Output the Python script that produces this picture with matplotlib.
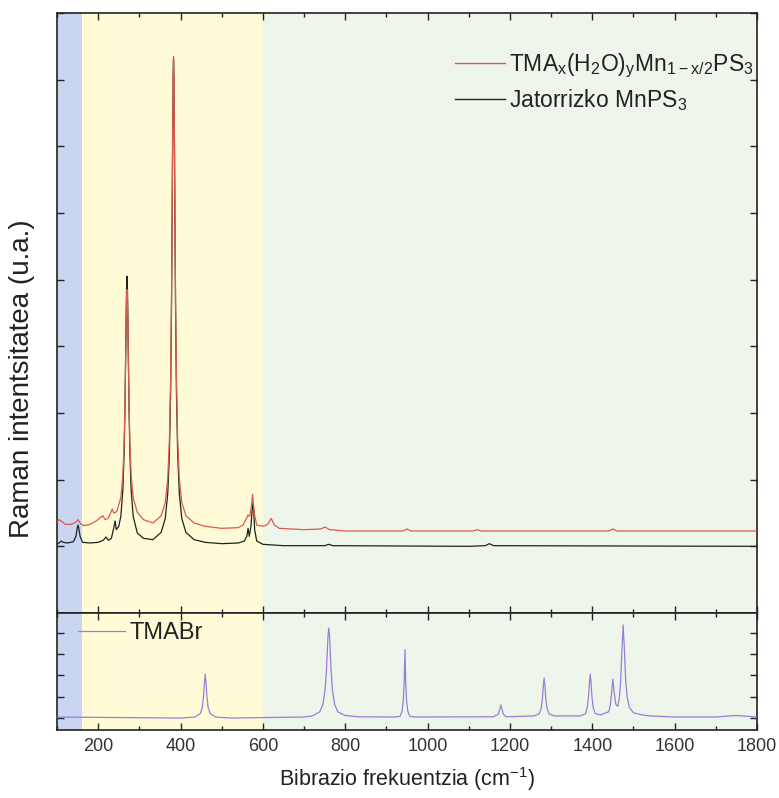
import matplotlib
matplotlib.use("Agg")
import matplotlib.pyplot as plt
from matplotlib.ticker import MultipleLocator, NullFormatter

plt.rcParams['font.family'] = ['Liberation Sans', 'DejaVu Sans']
plt.rcParams['mathtext.default'] = 'regular'

# ---- data: (wavenumber cm-1, intensity a.u.) ----
black_pts = [(100, 1.03), (105, 1.05), (110, 1.08), (115, 1.06), (125, 1.05), (140, 1.07), (146, 1.15),
             (149, 1.27), (151, 1.32), (153, 1.27), (156, 1.15), (162, 1.06), (180, 1.05), (200, 1.06),
             (212, 1.09), (219, 1.14), (225, 1.09), (232, 1.12), (238, 1.28), (241, 1.38), (244, 1.25),
             (250, 1.3), (255, 1.45), (260, 1.85), (263, 2.4), (265, 3.05), (267, 3.99), (268, 4.5),
             (269, 4.9), (270, 5.05), (271, 4.9), (272, 4.5), (273, 3.99), (275, 3.05), (277, 2.4),
             (280, 1.85), (285, 1.45), (295, 1.2), (310, 1.12), (333, 1.1), (353, 1.21), (363, 1.42),
             (369, 1.8), (373, 2.39), (376, 3.35), (378, 4.52), (379, 5.32), (380, 6.26), (381, 7.22),
             (382, 8.0), (383, 8.3), (384, 8.0), (385, 7.22), (386, 6.26), (387, 5.32), (388, 4.52),
             (390, 3.35), (393, 2.39), (397, 1.8), (403, 1.42), (413, 1.21), (433, 1.1), (460, 1.06),
             (500, 1.04), (540, 1.05), (555, 1.08), (561, 1.15), (564, 1.27), (567, 1.15), (571, 1.3),
             (574, 1.55), (576, 1.65), (578, 1.5), (580, 1.25), (585, 1.08), (600, 1.03), (650, 1.01),
             (750, 1.01), (760, 1.03), (770, 1.01), (1100, 1.0), (1140, 1.01), (1150, 1.04),
             (1160, 1.01), (1800, 1.0)]

red_pts = [(100, 1.36), (105, 1.40), (110, 1.38), (120, 1.33), (135, 1.33), (145, 1.36), (151, 1.40),
           (157, 1.34), (165, 1.31), (180, 1.33), (195, 1.38), (205, 1.43), (211, 1.46), (217, 1.40),
           (224, 1.42), (230, 1.50), (234, 1.56), (238, 1.50), (245, 1.52), (255, 1.73), (260, 2.07),
           (263, 2.55), (265, 3.12), (267, 3.93), (268, 4.37), (269, 4.72), (270, 4.85), (271, 4.72),
           (272, 4.37), (273, 3.93), (275, 3.12), (277, 2.55), (280, 2.07), (285, 1.73), (295, 1.51),
           (310, 1.4), (333, 1.35), (353, 1.46), (363, 1.66), (369, 2.02), (373, 2.60), (376, 3.54),
           (378, 4.67), (379, 5.45), (380, 6.37), (381, 7.30), (382, 8.06), (383, 8.35), (384, 8.06),
           (385, 7.30), (386, 6.37), (387, 5.45), (388, 4.67), (390, 3.54), (393, 2.60), (397, 2.02),
           (403, 1.66), (413, 1.46), (433, 1.35), (460, 1.3), (500, 1.27), (540, 1.28), (552, 1.32),
           (560, 1.42), (564, 1.47), (568, 1.45), (572, 1.6), (575, 1.78), (579, 1.5), (585, 1.32),
           (600, 1.3), (612, 1.33), (620, 1.42), (628, 1.32), (640, 1.27), (700, 1.25), (740, 1.26),
           (751, 1.29), (762, 1.25), (800, 1.23), (940, 1.23), (950, 1.26), (960, 1.23), (1110, 1.23),
           (1120, 1.25), (1130, 1.23), (1440, 1.23), (1450, 1.26), (1460, 1.23), (1800, 1.23)]

tma_pts = [(100, 0.05), (400, 0.0), (435, 0.05), (448, 0.21), (453, 0.51), (456, 1.03), (458, 1.65),
           (460, 2.06), (462, 1.65), (464, 1.03), (467, 0.51), (472, 0.21), (485, 0.05), (520, 0.0),
           (700, 0.05), (720, 0.1), (738, 0.29), (746, 0.66), (751, 1.30), (754, 2.12), (756, 2.93),
           (758, 3.81), (760, 4.23), (762, 3.81), (764, 2.93), (766, 2.12), (769, 1.30), (774, 0.66),
           (782, 0.29), (800, 0.12), (830, 0.06), (920, 0.05), (933, 0.08), (938, 0.32), (941, 0.80),
           (943, 1.61), (945, 3.22), (947, 1.61), (949, 0.80), (952, 0.32), (957, 0.08), (970, 0.05),
           (1160, 0.06), (1172, 0.19), (1175, 0.39), (1178, 0.61), (1181, 0.39), (1184, 0.19),
           (1190, 0.06), (1258, 0.1), (1271, 0.19), (1276, 0.46), (1279, 0.94), (1281, 1.5),
           (1283, 1.88), (1285, 1.5), (1287, 0.94), (1290, 0.46), (1295, 0.19), (1308, 0.1),
           (1370, 0.1), (1383, 0.2), (1388, 0.51), (1391, 1.03), (1393, 1.65), (1395, 2.06),
           (1397, 1.65), (1399, 1.03), (1402, 0.51), (1407, 0.21), (1420, 0.15), (1440, 0.3),
           (1444, 0.65), (1447, 1.2), (1450, 1.83), (1453, 1.2), (1457, 0.65), (1462, 0.55),
           (1466, 1.0), (1469, 1.8), (1472, 3.2), (1475, 4.37), (1478, 3.2), (1481, 1.8), (1485, 0.95),
           (1490, 0.5), (1500, 0.25), (1520, 0.15), (1540, 0.1), (1600, 0.05), (1700, 0.05),
           (1750, 0.12), (1800, 0.05)]

regions = [(100, 161, '#c9d5f1'), (161, 600, '#fffbd6'), (600, 1800, '#eef6ec')]

label_red = r'TMA$_x$(H$_2$O)$_y$Mn$_{1-x/2}$PS$_3$'
label_black = r'Jatorrizko MnPS$_3$'
label_tma = 'TMABr'

black_x, black_y = zip(*black_pts)
red_x, red_y = zip(*red_pts)
tma_x, tma_y = zip(*tma_pts)

# ---- figure ----
W, H = 779, 798
fig = plt.figure(figsize=(W/100, H/100), dpi=100)
ax1 = fig.add_axes([57/W, 1-613/H, 700/W, 600/H])
ax2 = fig.add_axes([57/W, 1-730/H, 700/W, 117/H])

for ax in (ax1, ax2):
    for x0, x1, c in regions:
        ax.axvspan(x0, x1, color=c, lw=0, zorder=0)
    ax.set_xlim(100, 1800)
    ax.xaxis.set_major_locator(MultipleLocator(200))
    ax.xaxis.set_minor_locator(MultipleLocator(100))
    ax.tick_params(which='both', direction='in', top=True, right=True, width=1.0, color='#222222')
    ax.tick_params(which='major', length=5)
    ax.tick_params(which='minor', length=3)
    for s in ax.spines.values():
        s.set_linewidth(1.2)
        s.set_color('#222222')

ax1.plot(red_x, red_y, color='#dc5a4f', lw=0.9, label=label_red, zorder=3)
ax1.plot(black_x, black_y, color='#1c2420', lw=0.9, label=label_black, zorder=2)
ax1.set_ylim(0, 9)
ax1.yaxis.set_major_locator(MultipleLocator(1))
ax1.tick_params(axis='y', length=5)
ax1.xaxis.set_major_formatter(NullFormatter())
ax1.yaxis.set_major_formatter(NullFormatter())
ax1.set_ylabel('Raman intentsitatea (u.a.)', fontsize=20, color='#222222')
ax1.yaxis.set_label_coords(-0.031, 0.39)
leg1 = ax1.legend(loc='upper left', bbox_to_anchor=(455/W, 1-52/H), bbox_transform=fig.transFigure,
                  frameon=False, fontsize=16.5, borderpad=0, borderaxespad=0,
                  handlelength=2.2, handletextpad=0.15, labelspacing=0.3)
for h in leg1.get_lines():
    h.set_linewidth(1.0)
for t in leg1.get_texts():
    t.set_color('#222222')

ax2.plot(tma_x, tma_y, color='#9a7ed6', lw=0.9, label=label_tma, zorder=3)
ax2.set_ylim(-0.56, 4.93)
ax2.yaxis.set_major_locator(MultipleLocator(1))
ax2.tick_params(axis='y', length=5)
ax2.yaxis.set_major_formatter(NullFormatter())
ax2.tick_params(axis='x', labelsize=13, labelcolor='#333333', pad=6)
ax2.set_xlabel('Bibrazio frekuentzia (cm$^{-1}$)', fontsize=15.5, labelpad=7, color='#222222')
leg2 = ax2.legend(loc='upper left', bbox_to_anchor=(78/W, 1-622/H), bbox_transform=fig.transFigure,
                  frameon=False, fontsize=17, borderpad=0, borderaxespad=0,
                  handlelength=2.0, handletextpad=0.2)
for t in leg2.get_texts():
    t.set_color('#222222')

fig.savefig('out.png', dpi=100)
